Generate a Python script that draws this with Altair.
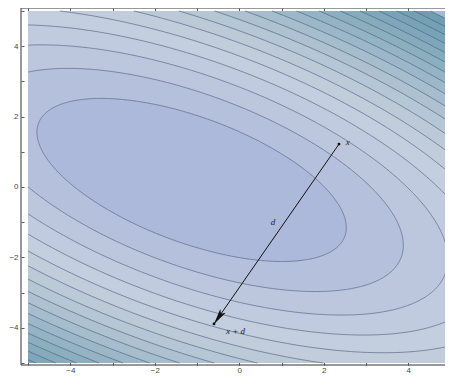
import math
import numpy as np
import pandas as pd
import altair as alt

# ---------------- values ----------------
center = [-1.13, 0.20]            # minimum of the quadratic form
quad_coefs = [0.40, 0.37, 1.0]    # a (x*x), b (x*y), c (y*y)
level_offset = 0.45               # contour k sits at level_offset + k * level_step
level_step = 3.08
level_index = list(range(1, 19))  # contour levels 1..18
band_colors = ["#adb9da", "#b5c1dc", "#bcc7de", "#c1cbdf", "#c3cede", "#c1cddb",
               "#bccad8", "#b5c6d5", "#adc1d1", "#a5bdcc", "#9cb8c8", "#94b3c4",
               "#8cafc0", "#85abbd", "#7ea7b9", "#78a3b6", "#73a0b3", "#6f9db1"]
outside_color = "#a2bad8"
plot_range = [-5, 5]
x_domain = [-5.17, 4.87]
y_domain = [-5.057, 5.085]
tick_values = [-5, -4.5, -4, -3.5, -3, -2.5, -2, -1.5, -1, -0.5, 0,
               0.5, 1, 1.5, 2, 2.5, 3, 3.5, 4, 4.5, 5]
label_values = [-4, -2, 0, 2, 4]
arrow_start = [2.36, 1.22]
arrow_end = [-0.60, -3.89]
text_labels = ["x", "d", "x + d"]
text_x = [2.52, 0.80, -0.09]
text_y = [1.27, -0.99, -4.08]
text_align = ["left", "center", "center"]

W, H = 424, 357

# ---------------- geometry of the contours ----------------
a, b, c = quad_coefs
det = a * c - b * b
lo, hi = plot_range
t_half = np.linspace(0, np.pi, 361)
t_full = np.linspace(0, 2 * np.pi, 721)


def boundary(x0, y0, x1, y1):
    ts = []
    for v0, v1 in ((x0, x1), (y0, y1)):
        if v1 > hi:
            ts.append((hi - v0) / (v1 - v0))
        if v1 < lo:
            ts.append((lo - v0) / (v1 - v0))
    tt = min(ts)
    return (x0 + tt * (x1 - x0), y0 + tt * (y1 - y0))


def clip_segments(px, py):
    inside = (px >= lo) & (px <= hi) & (py >= lo) & (py <= hi)
    segs, cur = [], []
    for i in range(len(px)):
        if inside[i]:
            if not cur and i > 0 and not inside[i - 1]:
                cur.append(boundary(px[i], py[i], px[i - 1], py[i - 1]))
            cur.append((px[i], py[i]))
        else:
            if cur:
                cur.append(boundary(px[i - 1], py[i - 1], px[i], py[i]))
                segs.append(cur)
                cur = []
    if cur:
        segs.append(cur)
    return segs


area_rows, line_rows = [], []
for k in level_index:
    L = level_offset + k * level_step
    xr = math.sqrt(L * c / det)
    xs = center[0] - xr * np.cos(t_half)
    extra = [v for v in (lo, hi) if center[0] - xr < v < center[0] + xr]
    xs = np.sort(np.concatenate([xs, extra]))
    xs = xs[(xs >= lo) & (xs <= hi)]
    dxs = xs - center[0]
    root = np.sqrt(np.clip(L * c - det * dxs ** 2, 0, None))
    yu = np.clip(center[1] + (-b * dxs + root) / c, lo, hi)
    yl = np.clip(center[1] + (-b * dxs - root) / c, lo, hi)
    for xv, y1, y2 in zip(xs, yl, yu):
        area_rows.append({"level": k, "x": xv, "y": y1, "y2": y2})

    dx = -xr * np.cos(t_full)
    px = center[0] + dx
    py = center[1] + (-b * dx + math.sqrt(L * c) * np.sin(t_full)) / c
    for j, seg in enumerate(clip_segments(px, py)):
        for i, (xv, yv) in enumerate(seg):
            line_rows.append({"seg": f"{k}_{j}", "i": i, "x": xv, "y": yv})

area_df = pd.DataFrame(area_rows)
line_df = pd.DataFrame(line_rows)
box_df = pd.DataFrame({"x": [lo], "x2": [hi], "y": [lo], "y2": [hi]})
arrow_df = pd.DataFrame({"x": [arrow_start[0], arrow_end[0]],
                         "y": [arrow_start[1], arrow_end[1]], "i": [0, 1]})
head_df = pd.DataFrame({"x": [arrow_end[0]], "y": [arrow_end[1]]})
text_df = pd.DataFrame({"label": text_labels, "x": text_x, "y": text_y, "al": text_align})
frame_df = pd.DataFrame({"x": [x_domain[0]], "x2": [x_domain[1]],
                         "y": [y_domain[0]], "y2": [y_domain[1]]})

xscale = alt.Scale(domain=x_domain, nice=False, zero=False)
yscale = alt.Scale(domain=y_domain, nice=False, zero=False)

lab_test = "indexof([" + ",".join(str(v) for v in label_values) + "], datum.value) >= 0"
TS = 3

common_axis = dict(values=tick_values, grid=False, domain=False, tickColor="#333",
                   tickWidth=0.8, tickSize=TS, offset=-TS, format="d",
                   labelFont="Liberation Sans", labelFontSize=8, labelColor="#444",
                   title=None)

x_bottom = alt.Axis(orient="bottom", labelExpr=f"{lab_test} ? datum.label : ''",
                    labelPadding=1, **common_axis)
x_top = alt.Axis(orient="top", labels=False, **common_axis)
y_left = alt.Axis(orient="left", labelExpr=f"{lab_test} ? datum.label : ''",
                  labelPadding=3, **common_axis)


def X(axis=None, field="x:Q"):
    return alt.X(field, scale=xscale, axis=axis)


def Y(axis=None, field="y:Q"):
    return alt.Y(field, scale=yscale, axis=axis)


layers = []
layers.append(alt.Chart(box_df).mark_rect(color=outside_color, clip=True).encode(
    x=X(x_bottom), x2="x2:Q", y=Y(y_left), y2="y2:Q"))
layers.append(alt.Chart(box_df).mark_rect(opacity=0).encode(
    x=X(x_top), x2="x2:Q", y=Y(), y2="y2:Q"))

for k in sorted(level_index, reverse=True):
    layers.append(alt.Chart(area_df).transform_filter(alt.datum.level == k).mark_area(
        color=band_colors[k - 1], clip=True, opacity=1).encode(
        x=X(), y=Y(), y2="y2:Q"))

layers.append(alt.Chart(line_df).mark_line(
    stroke="#4f607a", strokeWidth=0.8, opacity=0.8, clip=True).encode(
    x=X(), y=Y(), detail="seg:N", order="i:Q"))

# frame: left, bottom and top edges of the plot
frame_style = dict(color="#333", strokeWidth=1)
layers.append(alt.Chart(frame_df).mark_rule(**frame_style).encode(
    x=X(), y=Y(), y2="y2:Q"))
layers.append(alt.Chart(frame_df).mark_rule(**frame_style).encode(
    x=X(), x2="x2:Q", y=Y()))
layers.append(alt.Chart(frame_df).mark_rule(**frame_style).encode(
    x=X(), x2="x2:Q", y=Y(field="y2:Q")))

layers.append(alt.Chart(arrow_df).mark_line(color="#111", strokeWidth=1).encode(
    x=X(), y=Y(), order="i:Q"))

xu = W / (x_domain[1] - x_domain[0])
yu_ = H / (y_domain[1] - y_domain[0])
dxp = (arrow_end[0] - arrow_start[0]) * xu
dyp = -(arrow_end[1] - arrow_start[1]) * yu_
head_angle = math.degrees(math.atan2(dxp, -dyp)) % 360

layers.append(alt.Chart(arrow_df).mark_point(filled=True, color="#111", size=8, opacity=1).encode(
    x=X(), y=Y()))
layers.append(alt.Chart(head_df).mark_point(
    shape="M0,0L-0.42,2L0,1.55L0.42,2Z", filled=True, color="#111", opacity=1,
    size=250, angle=head_angle).encode(x=X(), y=Y()))

for al in ["left", "center"]:
    layers.append(alt.Chart(text_df).transform_filter(alt.datum.al == al).mark_text(
        font="Liberation Serif", fontStyle="italic", fontSize=9, color="#222",
        align=al, baseline="middle").encode(x=X(), y=Y(), text="label:N"))

chart = alt.layer(*layers).resolve_axis(x="independent", y="independent").properties(
    width=W, height=H,
    autosize=alt.AutoSizeParams(type="none"),
    padding={"left": 13, "top": 0, "right": 0, "bottom": 10},
).configure_view(stroke=None)

chart.save("out.html", embed_options={"renderer": "svg", "actions": False})
